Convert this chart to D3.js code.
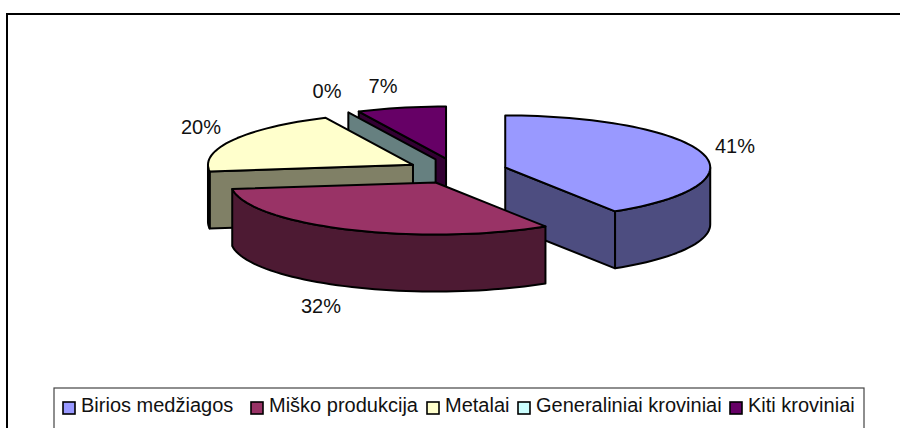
<!DOCTYPE html>
<html>
<head>
<meta charset="utf-8">
<script src="https://cdn.jsdelivr.net/npm/d3@7/dist/d3.min.js"></script>
<style>
html,body{margin:0;padding:0;background:#fff;overflow:hidden}
svg{display:block}
text{font-family:"Liberation Sans",Arial,sans-serif;font-size:20px;fill:#111}
</style>
</head>
<body>
<script>
const categories = ["Birios medžiagos","Miško produkcija","Metalai","Generaliniai kroviniai","Kiti kroviniai"];
const values = [41,32,20,0,7];
const topColors = ["#9999FF","#993366","#FFFFCC","#CCFFFF","#660066"];
const sideColors = ["#4D4D80","#4D1A33","#808066","#668080","#330033"];
const labelSpots = [[735,153],[321,313],[201,134],[327,98],[383,93]];
const legendX = [62,250,426,517,729];
const drawOrder = [4,3,2,0,1];

const W=900,H=428;
const svg=d3.select("body").append("svg").attr("width",W).attr("height",H);
svg.append("rect").attr("x",7).attr("y",14).attr("width",W+20).attr("height",H+20).attr("fill","#fff").attr("stroke","#000").attr("stroke-width",2);

const px=d3.scaleLinear().domain([-1,1]).range([252,662]);
const py=d3.scaleLinear().domain([-1,1]).range([223,119]);
const explode=0.245;
const depth=57;
const pie=d3.pie().sort(null).value(d=>d)(values);
const line=d3.line().curve(d3.curveLinear);
const pt=(a,r,d,dz)=>[px(Math.sin(a)*r+Math.sin(d)*explode),py(Math.cos(a)*r+Math.cos(d)*explode)+dz];
const arcAngles=(a0,a1)=>{const n=Math.max(1,Math.ceil((a1-a0)/0.04));return d3.range(n+1).map(i=>a0+(a1-a0)*i/n);};
const g=svg.append("g").attr("stroke","#000").attr("stroke-width",2).attr("stroke-linejoin","round");

drawOrder.forEach(i=>{
  const s=pie[i],a0=s.startAngle,a1=s.endAngle,d=(a0+a1)/2;
  const wall=p=>g.append("path").attr("d",line(p)+"Z").attr("fill",sideColors[i]);
  const radial=a=>wall([pt(0,0,d,0),pt(a,1,d,0),pt(a,1,d,depth),pt(0,0,d,depth)]);
  if(Math.sin(a0)<-1e-6) radial(a0);
  if(Math.sin(a1)>1e-6) radial(a1);
  const o0=Math.max(a0,Math.PI/2),o1=Math.min(a1,Math.PI*1.5);
  if(o1>o0){
    const arc=arcAngles(o0,o1);
    wall(arc.map(a=>pt(a,1,d,0)).concat(arc.slice().reverse().map(a=>pt(a,1,d,depth))));
  }
  if(a1>a0){
    g.append("path").attr("d",line([pt(0,0,d,0)].concat(arcAngles(a0,a1).map(a=>pt(a,1,d,0))))+"Z").attr("fill",topColors[i]);
  }
});

svg.append("g").selectAll("text").data(values).join("text")
  .attr("x",(v,i)=>labelSpots[i][0]).attr("y",(v,i)=>labelSpots[i][1])
  .attr("text-anchor","middle").text(v=>v+"%");

svg.append("rect").attr("x",54).attr("y",388).attr("width",810).attr("height",60).attr("fill","#fff").attr("stroke","#444").attr("stroke-width",1.2);
const leg=svg.append("g").selectAll("g").data(categories).join("g").attr("transform",(c,i)=>`translate(${legendX[i]},0)`);
leg.append("rect").attr("x",1).attr("y",402).attr("width",12).attr("height",12).attr("fill",(c,i)=>topColors[i]).attr("stroke","#000").attr("stroke-width",1.6);
leg.append("text").attr("x",19).attr("y",412).text(c=>c);
</script>
</body>
</html>
